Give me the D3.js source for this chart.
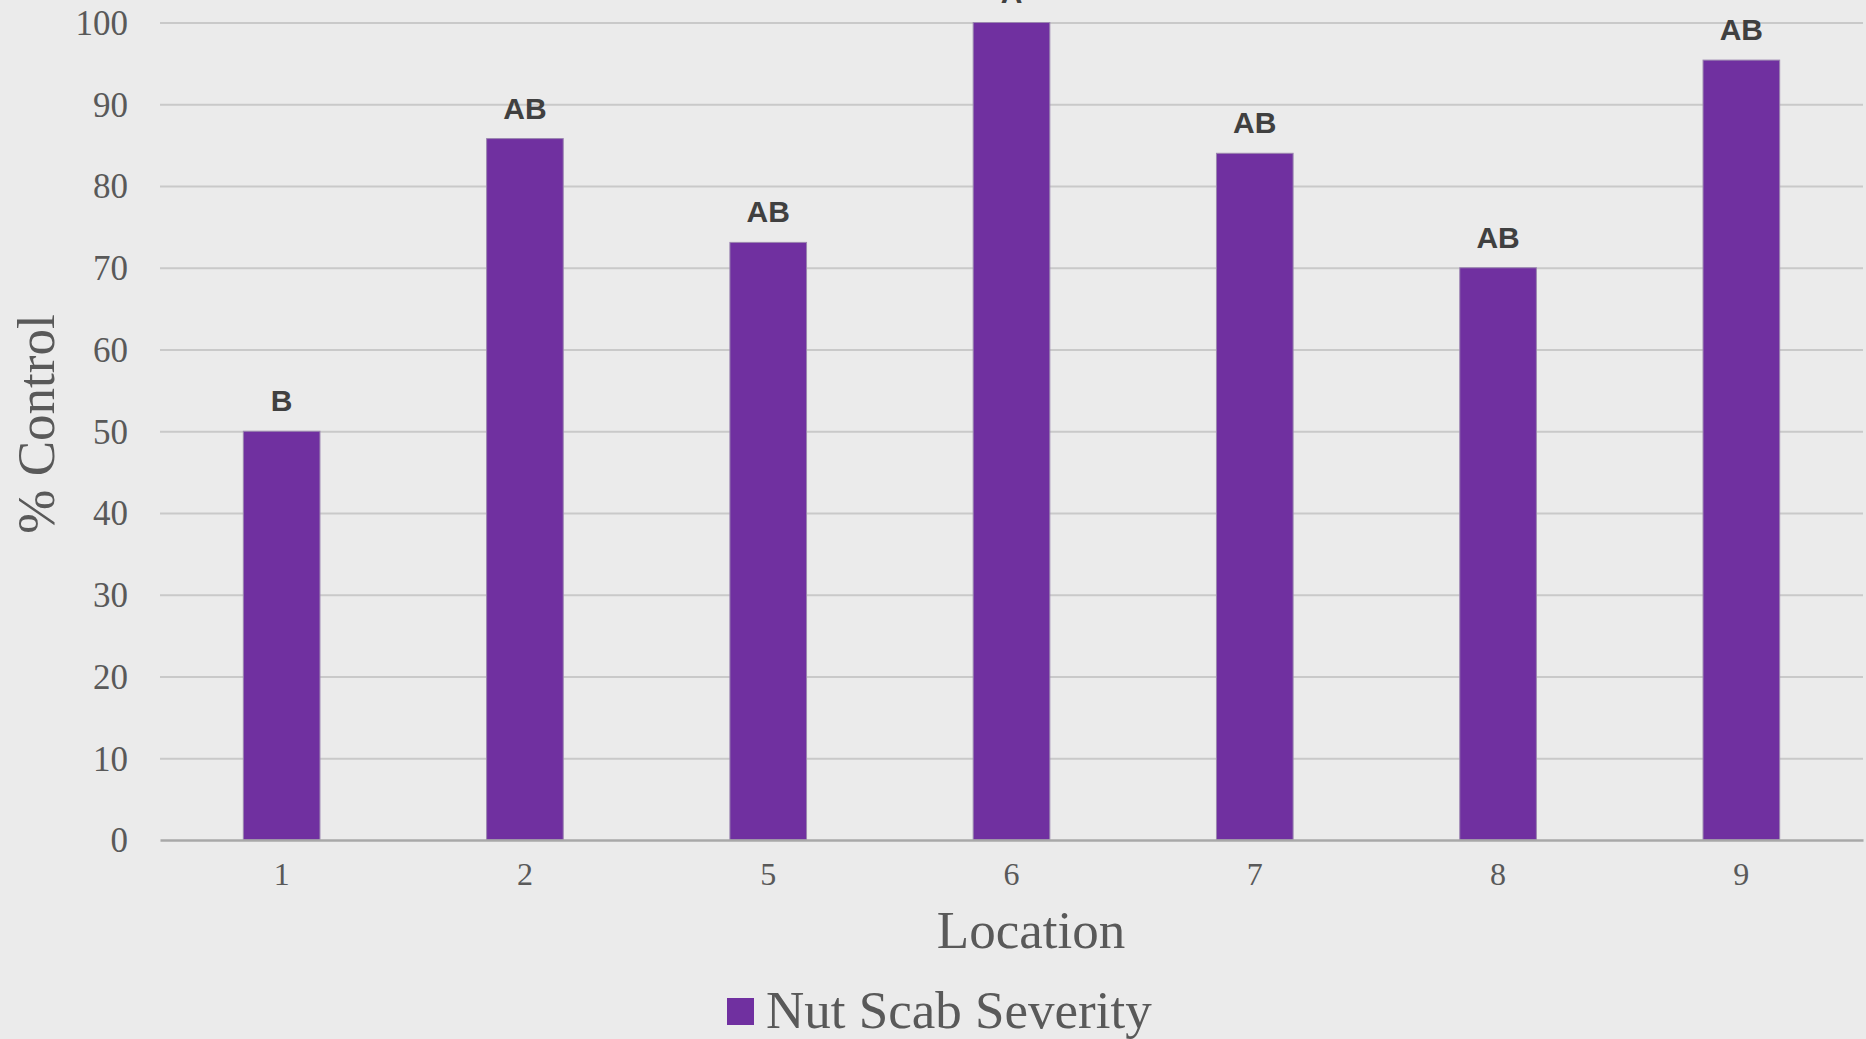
<!DOCTYPE html>
<html>
<head>
<meta charset="utf-8">
<script src="https://cdn.jsdelivr.net/npm/d3@7"></script>
<style>
  html, body { margin: 0; padding: 0; background: #ebebeb; }
  svg { display: block; }
</style>
</head>
<body>
<svg id="chart" width="1866" height="1039"></svg>
<script>
// Nut scab severity, % control by location, with mean-separation letters
const locations = ["1", "2", "5", "6", "7", "8", "9"];
const control = [50.0, 85.8, 73.1, 100, 84.0, 70.0, 95.4];
const letters = ["B", "AB", "AB", "A", "AB", "AB", "AB"];
const yTicks = [0, 10, 20, 30, 40, 50, 60, 70, 80, 90, 100];
const seriesName = "Nut Scab Severity";

const W = 1866, H = 1039;
const plot = { left: 160, right: 1863, top: 22.5, bottom: 840 };

const svg = d3.select("#chart");
svg.append("rect").attr("width", W).attr("height", H).attr("fill", "#ebebeb");

const x = d3.scaleBand()
  .domain(locations)
  .range([plot.left, plot.right])
  .paddingInner(0.685)
  .paddingOuter(0.3425);

const y = d3.scaleLinear().domain([0, 100]).range([plot.bottom, plot.top]);

// horizontal gridlines
const grid = svg.append("g")
  .attr("transform", `translate(${plot.left},0)`)
  .call(d3.axisLeft(y).tickValues(yTicks.filter(t => t > 0))
    .tickSize(-(plot.right - plot.left)).tickFormat(""));
grid.select(".domain").remove();
grid.selectAll("line").attr("stroke", "#c9c9c9").attr("stroke-width", 2);

// y tick labels
const yAxis = svg.append("g")
  .attr("transform", `translate(${plot.left},0)`)
  .call(d3.axisLeft(y).tickValues(yTicks).tickSize(0).tickPadding(32));
yAxis.select(".domain").remove();
yAxis.selectAll("text")
  .attr("font-family", "'Liberation Serif', 'Times New Roman', serif")
  .attr("font-size", 35)
  .attr("fill", "#595959")
  .attr("dy", "0.34em");

// bars
svg.append("g").selectAll("rect")
  .data(locations)
  .join("rect")
  .attr("x", d => x(d))
  .attr("width", x.bandwidth())
  .attr("y", (d, i) => y(control[i]))
  .attr("height", (d, i) => y(0) - y(control[i]))
  .attr("fill", "#7030a0")
  .attr("stroke", "#9b86b0")
  .attr("stroke-width", 1);

// baseline axis
const xAxis = svg.append("g")
  .attr("transform", `translate(0,${plot.bottom})`)
  .call(d3.axisBottom(x).tickSize(0).tickPadding(22));
xAxis.select(".domain").attr("stroke", "#a8a8a8").attr("stroke-width", 2.5);
xAxis.selectAll("text")
  .attr("font-family", "'Liberation Serif', 'Times New Roman', serif")
  .attr("font-size", 32)
  .attr("fill", "#595959");

// significance letters above bars
svg.append("g").selectAll("text")
  .data(locations)
  .join("text")
  .attr("x", d => x(d) + x.bandwidth() / 2)
  .attr("y", (d, i) => y(control[i]) - 20)
  .attr("text-anchor", "middle")
  .attr("font-family", "'Liberation Sans', Arial, sans-serif")
  .attr("font-weight", "bold")
  .attr("font-size", 30)
  .attr("fill", "#404040")
  .text((d, i) => letters[i]);

// axis titles
svg.append("text")
  .attr("x", 1031).attr("y", 948)
  .attr("text-anchor", "middle")
  .attr("font-family", "'Liberation Serif', 'Times New Roman', serif")
  .attr("font-size", 53)
  .attr("fill", "#595959")
  .text("Location");

svg.append("text")
  .attr("transform", "translate(54,424) rotate(-90)")
  .attr("text-anchor", "middle")
  .attr("font-family", "'Liberation Serif', 'Times New Roman', serif")
  .attr("font-size", 53)
  .attr("fill", "#595959")
  .text("% Control");

// legend
const legend = svg.append("g");
legend.append("rect")
  .attr("x", 727).attr("y", 998).attr("width", 27).attr("height", 27)
  .attr("fill", "#7030a0");
legend.append("text")
  .attr("x", 766).attr("y", 1028)
  .attr("font-family", "'Liberation Serif', 'Times New Roman', serif")
  .attr("font-size", 53)
  .attr("fill", "#595959")
  .text(seriesName);
</script>
</body>
</html>
